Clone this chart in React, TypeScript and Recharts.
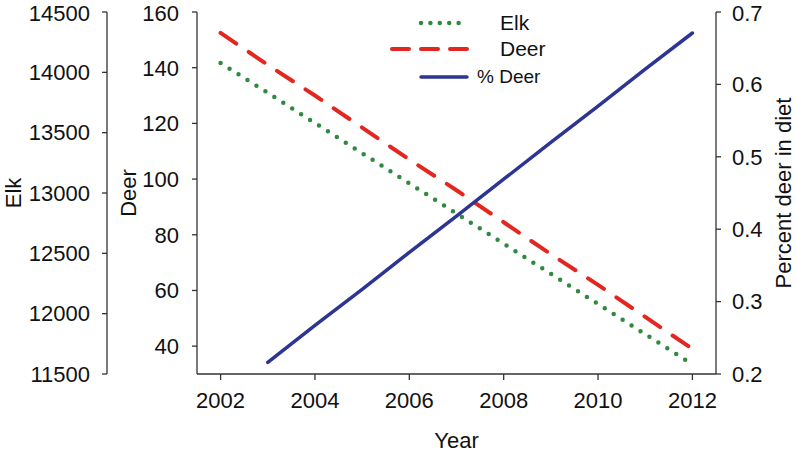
import React from "react";
import { ComposedChart, Line, XAxis, YAxis, Legend } from "recharts";

const years = [2002, 2003, 2004, 2005, 2006, 2007, 2008, 2009, 2010, 2011, 2012];
const elk = [14077, 13830, 13580, 13330, 13080, 12830, 12580, 12330, 12080, 11830, 11580];
const deer = [152.5, 141, 130, 118.5, 107, 96, 84.5, 73, 62, 50.5, 39];
const pctDeer = [null, 0.216, 0.267, 0.317, 0.368, 0.418, 0.469, 0.52, 0.57, 0.621, 0.671];

const yearTicks = [2002, 2004, 2006, 2008, 2010, 2012];
const elkTicks = [11500, 12000, 12500, 13000, 13500, 14000, 14500];
const deerTicks = [40, 60, 80, 100, 120, 140, 160];
const pctTicks = [0.2, 0.3, 0.4, 0.5, 0.6, 0.7];

const data = years.map((year, i) => ({
  year,
  elk: elk[i],
  deer: deer[i],
  pct: pctDeer[i],
}));

const FONT = "Arial, 'Liberation Sans', sans-serif";
const GREEN = "#2f8a3f";
const RED = "#e3261f";
const BLUE = "#2d3593";
const AXIS = "#333";

const tickStyle = { fontSize: 22, fill: "#111", fontFamily: FONT };
const lineStyle = { stroke: AXIS, strokeWidth: 1.3 };

// rotated axis title, placed from the axis box
const sideTitle = (text: string, fromLeft: number) => (props: any) => {
  const vb = props.viewBox;
  const cx = vb.x + fromLeft;
  const cy = vb.y + vb.height / 2;
  return (
    <text
      x={cx}
      y={cy}
      transform={`rotate(-90 ${cx} ${cy})`}
      textAnchor="middle"
      dominantBaseline="central"
      fontSize={22}
      fontFamily={FONT}
      fill="#111"
    >
      {text}
    </text>
  );
};

const yearTitle = (props: any) => {
  const vb = props.viewBox;
  return (
    <text
      x={vb.x + vb.width / 2}
      y={vb.y + 74}
      textAnchor="middle"
      fontSize={22}
      fontFamily={FONT}
      fill="#111"
    >
      Year
    </text>
  );
};

function ChartLegend() {
  return (
    <svg width={796} height={100} style={{ display: "block" }}>
      <line x1={421} y1={23} x2={467} y2={23} stroke={GREEN} strokeWidth={4.5}
        strokeLinecap="round" strokeDasharray="0 9.4" />
      <line x1={392} y1={49} x2={467} y2={49} stroke={RED} strokeWidth={4}
        strokeLinecap="round" strokeDasharray="17 12" />
      <line x1={421} y1={77} x2={467} y2={77} stroke={BLUE} strokeWidth={3.5}
        strokeLinecap="round" />
      <text x={500} y={30} fontSize={21} fontFamily={FONT} fill="#111">Elk</text>
      <text x={500} y={56} fontSize={21} fontFamily={FONT} fill="#111">Deer</text>
      <text x={477} y={83} fontSize={19} fontFamily={FONT} fill="#111">% Deer</text>
    </svg>
  );
}

export default function App() {
  return (
    <div style={{ position: "absolute", left: 0, top: 0, background: "#fff" }}>
      <ComposedChart
        width={796}
        height={454}
        data={data}
        margin={{ top: 12, right: 0, bottom: 0, left: 0 }}
      >
        <XAxis
          dataKey="year"
          type="number"
          domain={[2001.5, 2012.5]}
          ticks={yearTicks}
          allowDataOverflow
          height={80}
          tickSize={6}
          tickMargin={12}
          tick={tickStyle}
          axisLine={lineStyle}
          tickLine={lineStyle}
          label={yearTitle}
        />
        <YAxis
          yAxisId="deer"
          orientation="left"
          width={90}
          domain={[30, 160]}
          ticks={deerTicks}
          allowDataOverflow
          tickSize={5}
          tickMargin={13}
          tick={tickStyle}
          axisLine={lineStyle}
          tickLine={lineStyle}
          label={sideTitle("Deer", 21)}
        />
        <YAxis
          yAxisId="elk"
          orientation="left"
          width={107}
          domain={[11500, 14500]}
          ticks={elkTicks}
          allowDataOverflow
          tickSize={5}
          tickMargin={12}
          tick={tickStyle}
          axisLine={lineStyle}
          tickLine={lineStyle}
          label={sideTitle("Elk", 13)}
        />
        <YAxis
          yAxisId="pct"
          orientation="right"
          width={80}
          domain={[0.2, 0.7]}
          ticks={pctTicks}
          allowDataOverflow
          tickSize={5}
          tickMargin={11}
          tick={tickStyle}
          tickFormatter={(v: number) => v.toFixed(1)}
          axisLine={lineStyle}
          tickLine={lineStyle}
          label={sideTitle("Percent deer in diet", 67)}
        />
        <Legend
          verticalAlign="middle"
          align="center"
          content={() => <ChartLegend />}
          wrapperStyle={{ position: "absolute", left: 0, top: 0, width: 796, height: 100 }}
        />
        <Line
          yAxisId="elk"
          dataKey="elk"
          type="linear"
          stroke={GREEN}
          strokeWidth={4.5}
          strokeLinecap="round"
          strokeDasharray="0 10.6"
          dot={false}
          activeDot={false}
          isAnimationActive={false}
        />
        <Line
          yAxisId="deer"
          dataKey="deer"
          type="linear"
          stroke={RED}
          strokeWidth={4}
          strokeLinecap="round"
          strokeDasharray="19 15"
          dot={false}
          activeDot={false}
          isAnimationActive={false}
        />
        <Line
          yAxisId="pct"
          dataKey="pct"
          type="linear"
          stroke={BLUE}
          strokeWidth={3.5}
          strokeLinecap="round"
          dot={false}
          activeDot={false}
          isAnimationActive={false}
        />
      </ComposedChart>
    </div>
  );
}
